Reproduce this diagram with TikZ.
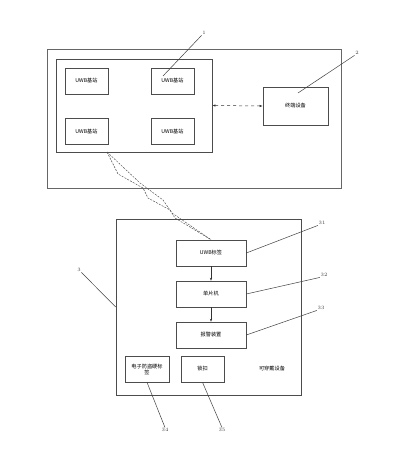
\documentclass[tikz,border=0pt]{standalone}
\usepackage{fontspec}
\newfontfamily\cjk{Noto Sans CJK SC}
\usetikzlibrary{arrows.meta}

\tikzset{
  box/.style={draw=black!70,line width=0.6pt,inner sep=1pt,align=center,
    font=\cjk\fontsize{5.2}{6}\selectfont},
  frame/.style={draw=black!60,line width=0.6pt,inner sep=0pt},
  lead/.style={draw=black!75,line width=0.5pt},
  num/.style={inner sep=0.5pt,font=\fontsize{5}{5}\selectfont,text=black!75}
}

\begin{document}
\begin{tikzpicture}[x=1pt,y=-1pt]
   \useasboundingbox (0,0) rectangle (403,452);
   % positioning system
   \node[frame,minimum width=294pt,minimum height=139pt] (sys) at (194,118.5) {};
   \node[box,minimum width=156pt,minimum height=93pt] (base) at (134,105.5) {};
   \node[box,minimum width=43pt,minimum height=26pt] (st1) at (86.5,81) {UWB基站};
   \node[box,minimum width=43pt,minimum height=26pt] (st2) at (172.5,81) {UWB基站};
   \node[box,minimum width=43pt,minimum height=26pt] (st3) at (86.5,131.5) {UWB基站};
   \node[box,minimum width=43pt,minimum height=26pt] (st4) at (172.5,131.5) {UWB基站};
   \node[box,minimum width=65pt,minimum height=38pt] (term) at (295.5,106) {终端设备};
   \draw[black!80,line width=0.5pt,dashed,{Latex[length=3pt]}-{Latex[length=3pt]}]
     (base.east) -- (term.west);
   % wearable device
   \node[box,minimum width=185pt,minimum height=176pt] (wear) at (208.5,307) {};
   \node[box,minimum width=70pt,minimum height=26pt] (tag) at (211,253) {UWB标签};
   \node[box,minimum width=70pt,minimum height=26pt] (mcu) at (211,294) {单片机};
   \node[box,minimum width=70pt,minimum height=26pt] (alarm) at (211,335) {报警装置};
   \node[box,minimum width=44pt,minimum height=26pt] (hard) at (147,369) {电子防盗硬标\\签};
   \node[box,minimum width=43pt,minimum height=26pt] (lock) at (202.5,369) {锁扣};
   \node[font=\cjk\fontsize{5.2}{6}\selectfont,inner sep=0pt] (wtxt) at (272,369) {可穿戴设备};
   \draw[black!80,line width=0.5pt,-{Stealth[length=3pt]}] (tag) -- (mcu);
   \draw[black!80,line width=0.5pt,-{Stealth[length=3pt]}] (mcu) -- (alarm);
   % wireless link
   \coordinate (zz) at (107,152);
   \draw[black!70,line width=0.45pt,dash pattern=on 2pt off 1.2pt]
     (zz) -- (118,174) -- (143,188) -- (148,198) -- (170,210) -- (175,218) -- (tag.north);
   \draw[black!70,line width=0.45pt,dash pattern=on 2pt off 1.2pt]
     (zz) -- (140,183) -- (163,200) -- (172,213) -- (tag.north);
   % reference numbers
   \node[num] (n1) at (204,33) {1};
   \node[num] (n2) at (357,53) {2};
   \node[num] (n3) at (79,270) {3};
   \node[num] (n31) at (322,223) {31};
   \node[num] (n32) at (324,275) {32};
   \node[num] (n33) at (321,308) {33};
   \node[num] (n34) at (165,430) {34};
   \node[num] (n35) at (222,430) {35};
   \draw[lead] (n1.south west) -- (163,76);
   \draw[lead] (n2.south west) -- (298,93);
   \draw[lead] (n3.south east) -- (wear.west);
   \draw[lead] (n31.south west) -- (tag.east);
   \draw[lead] (n32.south west) -- (mcu.east);
   \draw[lead] (n33.south west) -- (alarm.east);
   \draw[lead] (n34.north) -- (hard.south);
   \draw[lead] (n35.north) -- (lock.south);
\end{tikzpicture}
\end{document}
